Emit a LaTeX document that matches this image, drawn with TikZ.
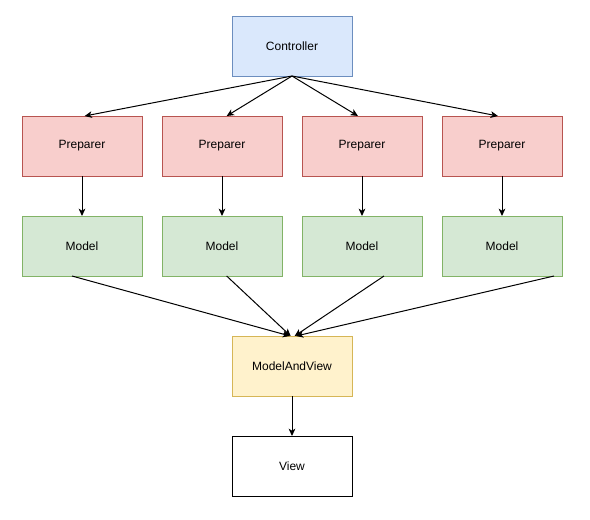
\documentclass[tikz,border=0pt]{standalone}
\usepackage{fontspec}
\setmainfont{Liberation Sans}
\usetikzlibrary{arrows.meta,positioning}

\definecolor{ctrlfill}{HTML}{DAE8FC}
\definecolor{ctrldraw}{HTML}{6C8EBF}
\definecolor{prepfill}{HTML}{F8CECC}
\definecolor{prepdraw}{HTML}{B85450}
\definecolor{modelfill}{HTML}{D5E8D4}
\definecolor{modeldraw}{HTML}{82B366}
\definecolor{mavfill}{HTML}{FFF2CC}
\definecolor{mavdraw}{HTML}{D6B656}

\begin{document}
\begin{tikzpicture}[
    >={Stealth[length=5.5pt,width=5pt,inset=1.5pt]},
    node distance=30pt and 15pt,
    font=\fontsize{9pt}{11pt}\selectfont,
    line width=0.75pt,
    block/.style={draw, rectangle, line width=0.75pt, outer sep=0pt, minimum height=45pt, minimum width=90pt},
    ctrl/.style={block, fill=ctrlfill, draw=ctrldraw},
    prep/.style={block, fill=prepfill, draw=prepdraw},
    model/.style={block, fill=modelfill, draw=modeldraw},
    mav/.style={block, fill=mavfill, draw=mavdraw},
    link/.style={->, line width=0.75pt}
]
\useasboundingbox (0,0) rectangle (442.5pt,-389.25pt);

% Controlador
\node[ctrl] (ctrl) at (219pt,-34.5pt) {Controller};

% Preparadores
\node[prep] (p1) at (61.5pt,-109.5pt) {Preparer};
\node[prep, right=of p1] (p2) {Preparer};
\node[prep, right=of p2] (p3) {Preparer};
\node[prep, right=of p3] (p4) {Preparer};

% Modelos
\node[model, below=of p1] (m1) {Model};
\node[model, below=of p2] (m2) {Model};
\node[model, below=of p3] (m3) {Model};
\node[model, below=of p4] (m4) {Model};

% Salida
\node[mav] (mav) at (219pt,-274.5pt) {ModelAndView};
\node[block, below=of mav] (view) {View};

% Conexiones
\draw[link] (ctrl.south) -- ([xshift=2pt]p1.north);
\draw[link] (ctrl.south) -- ([xshift=3.5pt]p2.north);
\draw[link] (ctrl.south) -- ([xshift=-3pt]p3.north);
\draw[link] (ctrl.south) -- ([xshift=-3pt]p4.north);

\draw[link] (p1) -- (m1);
\draw[link] (p2) -- (m2);
\draw[link] (p3) -- (m3);
\draw[link] (p4) -- (m4);

\draw[link] ([xshift=-7.5pt]m1.south) -- ([xshift=-1.5pt]mav.north);
\draw[link] ([xshift=3.5pt]m2.south) -- ([xshift=-1pt]mav.north);
\draw[link] ([xshift=16.5pt]m3.south) -- ([xshift=2pt]mav.north);
\draw[link] ([xshift=39pt]m4.south) -- ([xshift=3pt]mav.north);

\draw[link] (mav) -- (view);

\end{tikzpicture}
\end{document}
